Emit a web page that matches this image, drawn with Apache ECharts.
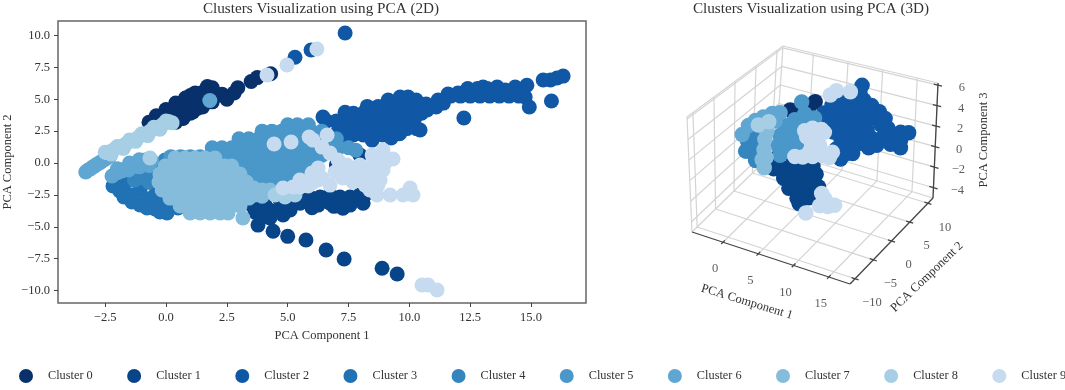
<!DOCTYPE html>
<html><head><meta charset="utf-8">
<style>html,body{margin:0;padding:0;background:#fff}#c{width:1065px;height:390px}</style>
<script src="https://cdn.jsdelivr.net/npm/echarts@6/dist/echarts.min.js"></script>
</head><body><div id="c"></div>
<script>
const names=['Cluster 0','Cluster 1','Cluster 2','Cluster 3','Cluster 4','Cluster 5','Cluster 6','Cluster 7','Cluster 8','Cluster 9'];
const colors=['#08306b','#084488','#1058a6','#2171b5','#3585bf','#4a97c9','#60a6d2','#85bcdc','#a6cee4','#c6dbef'];
const xTicks=[-2.5,0,2.5,5,7.5,10,12.5,15];
const yTicks=[-10,-7.5,-5,-2.5,0,2.5,5,7.5,10];
const tick3x=[0,5,10,15];
const tick3y=[-10,-5,0,5,10];
const tick3z=[-4,-2,0,2,4,6];

const c0_2d=[[1.7,6.0],[1.9,5.9],[1.55,5.6],[1.2,5.5],[0.8,5.1],[0.4,4.7],[0,4.2],[-0.4,3.7],[-0.7,3.2],[1.2,4.8],[0.8,4.3],[1.6,4.8],[2.0,5.2],[0.4,3.8],[0,3.3],[0.4,3.2],[2.3,5.4],[2.5,5.0],[2.95,5.9],[2.8,5.5],[3.5,6.4],[3.75,6.7],[4.3,7.0],[0.6,4.4],[1.4,5.2],[0.2,4.0],[1.0,5.3],[-0.2,3.6],[1.8,5.4],[0.6,3.7],[1.0,3.9],[0.7,3.5],[1.1,4.0],[1.5,4.4],[1.9,4.8],[1.3,4.3]];
const c1_2d=[[3.86,-3.3],[3.66,-3.85],[4.27,-3.7],[4.27,-4.3],[3.78,-4.87],[4.4,-5.35],[5.0,-5.75],[4.69,-3.7],[5.1,-3.3],[5.51,-3.15],[5.92,-3.15],[6.25,-3.3],[6.74,-3.15],[7.27,-3.55],[7.56,-3.3],[8.1,-3.15],[8.27,-2.35],[7.97,-2.5],[7.56,-2.67],[7.15,-2.67],[6.74,-2.5],[6.33,-2.67],[5.92,-2.67],[5.51,-2.67],[5.1,-2.67],[4.69,-2.9],[7.0,-0.16],[7.4,-0.7],[7.97,0.63],[7.56,-1.18],[5.75,-6.04],[6.58,-6.82],[7.32,-7.53],[8.88,-8.25],[9.5,-8.7],[4.48,-3.84],[4.81,-4.08],[4.07,-3.3],[3.53,-3.3],[5.1,-3.69],[6.0,-3.5],[6.9,-3.4],[3.95,-4.08]];
const c2_2d=[[6.45,3.6],[7.36,3.98],[8.27,4.44],[8.72,4.44],[9.13,4.94],[9.62,5.18],[9.95,5.18],[10.28,4.94],[10.69,4.63],[11.18,4.94],[11.59,5.41],[12.0,5.49],[13.03,5.96],[13.61,5.96],[13.94,5.73],[14.35,5.96],[14.64,5.41],[14.76,5.18],[14.93,4.39],
[9.1,4.4],[9.5,4.4],[9.9,4.4],[10.3,4.4],[11.1,4.4],[7.7,3.9],[8.1,3.9],[8.5,3.9],[8.9,3.9],[9.3,3.9],[9.7,3.9],[10.1,3.9],[10.5,3.9],[10.73,4.16],[6.6,3.3],[7,3.3],[7.4,3.3],[7.8,3.3],[8.2,3.3],[8.6,3.3],[9,3.3],[9.4,3.3],[9.8,3.3],[10.2,3.4],[7.1,2.7],[7.5,2.7],[7.9,2.7],[8.3,2.7],[8.7,2.7],[9.1,2.7],[9.5,2.7],[9.9,2.7],[10.3,2.7],[7.3,2.2],[7.7,2.2],[8.1,2.2],[8.5,2.2],[8.9,2.2],[9.3,2.2],[9.6,2.3],[8.47,1.8],[9.25,1.96],[10.44,2.59],
[11.4,4.7],[11.7,5.25],[12.1,5.25],[12.5,5.25],[12.9,5.25],[13.3,5.25],[13.7,5.25],[14.1,5.25],[14.5,5.25],[12.4,5.85],[12.8,5.85],[13.2,5.85],[13.6,5.6],[14,5.6],[12.24,3.53],[14.83,6.1],[15.84,4.86],[15.5,6.51],[15.8,6.51],[16.07,6.67],[16.32,6.82],[5.3,8.3],[5.96,8.86],[7.36,10.2]];
const c3_2d=[[-2.18,-1.8],[-1.73,-2.67],[-1.07,-3.29],[-0.45,-3.61],[0.04,-3.92],[0.49,-3.53],[0.16,-2.9],[-0.45,-2.5],[-1.07,-2.12],[-1.69,-1.57],[-0.66,-1.49],[-1.4,-3.06],[-0.78,-3.53],[-0.25,-3.84],[-1.4,-2.5],[-0.8,-2.8],[-0.2,-3.2],[-1.9,-2.2],[-0.2,-2.2],[0.3,-2.5],[-1.0,-1.5],[0.0,-1.6]];
const c4_2d=[[-0.86,-1.18],[-0.66,-0.7],[-0.45,-0.4],[-0.04,0.24],[0.25,0.24],[0.78,0.39],[-1.07,-1.18],[-0.3,-0.9],[-0.7,-1.5],[-0.2,-0.2],[-1.3,-1.35]];
const c5_2d=[[5.0,3.0],[5.4,3.0],[5.85,3.0],[3.95,2.5],[4.35,2.5],[4.75,2.5],[5.15,2.5],[5.55,2.5],[5.95,2.5],[6.4,2.5],[3.0,1.9],[3.4,1.9],[3.8,1.9],[4.2,1.9],[4.6,1.9],[5.0,1.9],[5.4,1.9],[5.8,1.9],[6.2,1.9],[6.6,1.9],[7.0,1.9],[1.9,1.2],[2.3,1.2],[2.7,1.2],[3.1,1.2],[3.5,1.2],[3.9,1.2],[4.3,1.2],[4.7,1.2],[5.1,1.2],[5.5,1.2],[5.9,1.2],[6.3,1.2],[6.7,1.2],[7.1,1.2],[7.5,1.2],[7.8,1.0],[0.2,0.5],[0.6,0.5],[1.0,0.5],[1.4,0.5],[1.8,0.5],[2.2,0.5],[2.6,0.5],[3.0,0.5],[3.4,0.5],[3.8,0.5],[4.2,0.5],[4.6,0.5],[5.0,0.5],[5.4,0.5],[5.8,0.5],[6.2,0.5],[6.4,0.6],[0.4,-0.2],[0.8,-0.2],[1.2,-0.2],[1.6,-0.2],[2.0,-0.2],[2.4,-0.2],[2.8,-0.2],[3.2,-0.2],[3.6,-0.2],[4.0,-0.2],[4.4,-0.2],[4.8,-0.2],[5.2,-0.2],[5.6,-0.2],[6.0,-0.2],[2.6,-0.9],[3.0,-0.9],[3.4,-0.9],[3.8,-0.9],[4.2,-0.9],[4.6,-0.9],[5.0,-0.9],[5.4,-0.9],[3.0,-1.6],[3.4,-1.6],[3.8,-1.6],[4.2,-1.6],[4.6,-1.6],[5.0,-1.6]];
const c6_2d=[[-3.3,-0.7],[-3.1,-0.45],[-2.9,-0.2],[-2.7,0.05],[-2.5,0.3],[-2.3,0.55],[-3.2,-0.55],[-3,-0.3],[-2.8,-0.05],[-2.6,0.2],[-2.4,0.45],[-2.22,-1.02],[-1.81,-0.63],[-1.4,-0.31],[-0.95,0],[-0.6,0.2],[-1.69,-0.47],[-1.27,-0.08],[-0.86,0.24],[1.8,4.9],[-2.0,-0.75],[-1.55,-0.55],[-1.1,-0.3],[-0.7,-0.2],[-1.5,0.0],[-1.1,0.25],[-2.0,-0.45]];
const c7_2d=[[0.37,0.39],[0.78,0.39],[1.19,0.39],[1.6,0.39],[2.01,0.39],[-0.04,-0.24],[0.37,-0.24],[0.78,-0.24],[1.19,-0.24],[1.6,-0.24],[2.01,-0.24],[2.42,-0.24],[2.7,-0.24],[-0.25,-0.86],[0.16,-0.86],[0.58,-0.86],[0.99,-0.86],[1.4,-0.86],[1.81,-0.86],[2.22,-0.86],[2.63,-0.86],[3.04,-0.86],[-0.29,-1.49],[0.16,-1.49],[0.58,-1.49],[0.99,-1.49],[1.4,-1.49],[1.81,-1.49],[2.22,-1.49],[2.63,-1.49],[3.04,-1.49],[3.3,-1.49],[-0.16,-2.12],[0.25,-2.12],[0.66,-2.12],[1.07,-2.12],[1.48,-2.12],[1.89,-2.12],[2.3,-2.12],[2.71,-2.12],[3.12,-2.12],[3.5,-2.12],[0.16,-2.75],[0.58,-2.75],[0.99,-2.75],[1.4,-2.75],[1.81,-2.75],[2.22,-2.75],[2.63,-2.75],[3.04,-2.75],[3.4,-2.75],[0.58,-3.37],[0.99,-3.37],[1.4,-3.37],[1.81,-3.37],[2.22,-3.37],[2.63,-3.37],[3.04,-3.37],[0.99,-3.92],[1.4,-3.92],[1.81,-3.92],[2.22,-3.92],[2.55,-3.92],[3.16,-4.31],[3.66,-2.5],[3.95,-2.12],[4.27,-2.12],[3.95,-2.6],[3.6,-1.96]];
const c8_2d=[[-2.5,0.85],[-2.25,0.7],[-2,1.3],[-1.75,1.15],[-1.5,1.8],[-1.25,1.7],[-1,2.3],[-0.75,2.15],[-0.5,2.8],[-0.25,2.65],[0,3.3],[0.25,3.15],[-2.4,0.8],[-2.15,1.05],[-1.9,1.25],[-1.65,1.5],[-1.4,1.75],[-1.15,2.0],[-0.9,2.25],[-0.65,2.5],[-0.4,2.75],[-0.15,3.0],[0.1,3.25],[-0.66,0.39],[4.48,-2.5],[4.89,-2.67],[5.3,-2.5],[4.69,-2.27],[5.1,-2.27]];
const c9_2d=[[4.44,1.49],[5.14,1.65],[5.88,2.04],[6.62,2.2],[6.04,1.8],[6.41,1.25],[6.74,0.78],[7.07,0.24],[7.44,-0.16],[7.77,-0.39],[8.8,0.47],[9.33,0.31],[8.92,1.02],[8.38,-0.31],[8.92,-0.55],[8.51,-1.57],[8.18,-0.55],[8.59,0.24],[8.47,0.63],[6.25,-0.39],[6.0,-0.78],[4.81,-1.96],[5.22,-1.88],[5.84,-1.8],[6.25,-1.33],[6.74,-1.73],[7.27,-1.18],[7.69,-1.49],[6.41,-1.18],[6.0,-1.57],[5.51,-1.88],[7.36,-0.78],[7.77,-0.7],[8.06,-1.18],[8.18,-1.73],[8.67,-2.51],[9.21,-2.51],[9.74,-2.51],[10.15,-2.51],[10.03,-1.96],[8.38,-2.12],[8.8,-1.33],[7.97,-0.16],[8.47,-0.7],[8.7,-0.16],[9.0,0],[8.38,-1.18],[8.71,-1.73],[5.5,-1.33],[6.95,-0.7],[4.97,7.69],[6.2,8.94],[4.15,6.9],[10.52,-9.57],[10.77,-9.57],[11.14,-9.96]];

const c0_3d=[[1.27,5.7,2.37],[3.82,5.7,3.73],[3.12,5.7,3.27],[0.28,5.7,2.25]];
const c1_3d=[[4.51,-4.56,1.83],[3.8,-4.56,0.49],[5.21,-4.56,0.81],[6.63,-4.56,1.62],[8.05,-4.56,1.26],[9.47,-4.56,1.78],[9.89,-4.56,1.1],[5.21,-4.56,-0.16],[6.63,-4.56,0.36],[8.05,-4.56,0.29],[9.47,-4.56,0.32],[5.92,-4.56,-0.97],[7.34,-4.56,-0.66],[8.76,-4.56,-0.33],[7.06,-4.56,-1.69],[8.05,-4.56,-1.27],[7.34,-4.56,-2.12],[8.76,-4.56,-1.31],[10.18,-4.56,-0.01],[4.79,-4.56,0.72]];
const c2_3d=[[10.49,5.7,6.49],[10.21,5.7,5.66],[9.07,5.7,5.21],[7.65,5.7,4.59],[6.24,5.7,3.79],[5.1,5.7,2.84],[4.82,5.7,2.0],[5.1,5.7,1.28],[6.52,5.7,3.16],[7.94,5.7,3.68],[9.35,5.7,4.39],[10.77,5.7,5.1],[11.91,5.7,4.77],[13.04,5.7,4.35],[13.89,5.7,3.85],[14.32,5.7,2.98],[13.33,5.7,3.14],[11.91,5.7,3.6],[10.49,5.7,3.77],[9.07,5.7,3.16],[7.65,5.7,2.65],[6.24,5.7,2.13],[6.52,5.7,1.21],[7.94,5.7,1.73],[9.35,5.7,2.25],[10.77,5.7,2.86],[7.65,5.7,0.7],[9.07,5.7,1.21],[10.49,5.7,1.82],[11.91,5.7,1.65],[13.33,5.7,1.78],[14.74,5.7,2.49],[16.16,5.7,2.91],[17.3,5.7,3.06],[16.16,5.7,2.13],[16.16,5.7,1.45],[14.74,5.7,1.52],[11.62,5.7,0.62],[10.49,5.7,0.84],[9.07,5.7,0.24],[8.36,5.7,-0.61],[9.35,5.7,-0.38],[7.65,5.7,-1.25],[6.94,5.7,-0.44],[5.67,5.7,2.39],[8.5,5.7,3.22],[9.92,5.7,3.93],[11.34,5.7,4.25],[12.76,5.7,3.6],[7.09,5.7,2.02],[8.5,5.7,2.44],[10.06,5.7,3.19],[11.34,5.7,2.3],[8.5,5.7,1.47],[9.92,5.7,1.01],[12.76,5.7,1.07],[13.89,5.7,2.39]];
const c3_3d=[[-0.5,-2.3,1.5],[0.3,-2.3,1.0]];
const c4_3d=[[-0.94,-2.28,2.03],[-0.66,-2.28,1.13],[-0.23,-2.28,0.25],[0.48,-2.28,2.35],[-1.22,-2.28,1.49],[-0.23,-2.28,2.49],[0.76,-2.28,3.1],[-0.94,-2.28,0.57],[-0.09,-2.28,-0.21],[-1.51,-2.28,0.44]];
const c5_3d=[[5.24,0,5.75],[2.83,0,3.06],[4.25,0,3.86],[5.67,0,4.68],[7.09,0,4.51],[2.12,0,1.93],[3.54,0,2.73],[4.96,0,3.25],[6.38,0,3.86],[1.84,0,0.89],[3.26,0,1.51],[4.68,0,2.02],[6.09,0,2.82],[2.12,0,-0.02],[3.54,0,0.59],[4.96,0,1.11],[3.54,0,3.22]];
const c6_3d=[[-2.41,0,2.07],[-1.42,0,2.78],[-0.29,0,3.33],[0.99,0,3.91],[2.12,0,4.17],[1.41,0,3.23],[-3.3,0,1.0]];
const c7_3d=[[1.92,-3.42,2.6],[1.78,-3.42,1.58],[2.21,-3.42,3.43],[1.5,-3.42,0.55],[2.07,-3.42,0.87],[1.78,-3.42,-0.17]];
const c8_3d=[[-1.0,0,2.4],[0.5,0,3.0]];
const c9_3d=[[5.67,0,3.03],[6.8,0,3.47],[8.08,0,3.57],[8.5,0,3.37],[5.95,0,2.5],[7.37,0,2.63],[6.66,0,1.79],[7.79,0,2.04],[4.25,0,0.26],[5.38,0,0.43],[6.8,0,0.75],[8.22,0,1.07],[9.64,0,1.68],[9.21,0,1.1],[6.38,0,1.14],[8.08,0,-2.57],[8.5,0,-2.96],[7.79,0,-3.8],[8.93,0,-3.65],[9.92,0,-3.32],[5.81,0,-4.93],[4.02,9.1,3.35],[4.87,9.1,3.93],[6.86,9.1,4.18]];

const clusters2d=[c0_2d,c1_2d,c2_2d,c3_2d,c4_2d,c5_2d,c6_2d,c7_2d,c8_2d,c9_2d];
const clusters3d=[c0_3d,c1_3d,c2_3d,c3_3d,c4_3d,c5_3d,c6_3d,c7_3d,c8_3d,c9_3d];

/* 3D box: data ranges and the screen corners of the box, used to project a value triple */
const R={x:[-4.4,18],y:[-11.4,11.4],z:[-5,6.2]};
const C={A:[692,232],B:[850,284],K:[933,198],D:[776,150],At:[687,117],Bt:[842,154],Kt:[938,83],Dt:[783,46]};
function project(x,y,z){
  const u=(x-R.x[0])/(R.x[1]-R.x[0]),v=(y-R.y[0])/(R.y[1]-R.y[0]),w=(z-R.z[0])/(R.z[1]-R.z[0]);
  const out=[0,0];
  for(let i=0;i<2;i++){
    const b=(1-u)*(1-v)*C.A[i]+u*(1-v)*C.B[i]+u*v*C.K[i]+(1-u)*v*C.D[i];
    const t=(1-u)*(1-v)*C.At[i]+u*(1-v)*C.Bt[i]+u*v*C.Kt[i]+(1-u)*v*C.Dt[i];
    out[i]=b+(t-b)*w;
  }
  return out;
}
const seg=(a,b)=>({coords:[project(...a),project(...b)]});
const [x0,x1]=R.x,[y0,y1]=R.y,[z0,z1]=R.z;
const gridSegs=[];
tick3x.forEach(t=>{gridSegs.push(seg([t,y0,z0],[t,y1,z0]),seg([t,y1,z0],[t,y1,z1]));});
tick3y.forEach(t=>{gridSegs.push(seg([x0,t,z0],[x1,t,z0]),seg([x0,t,z0],[x0,t,z1]));});
tick3z.forEach(t=>{gridSegs.push(seg([x0,y0,t],[x0,y1,t]),seg([x0,y1,t],[x1,y1,t]));});
[[[x0,y0,z0],[x0,y1,z0]],[[x0,y1,z0],[x1,y1,z0]],[[x0,y0,z0],[x0,y0,z1]],[[x0,y1,z0],[x0,y1,z1]],[[x1,y1,z0],[x1,y1,z1]],[[x0,y0,z1],[x0,y1,z1]],[[x0,y1,z1],[x1,y1,z1]]].forEach(p=>gridSegs.push(seg(p[0],p[1])));
const axisSegs=[seg([x0,y0,z0],[x1,y0,z0]),seg([x1,y0,z0],[x1,y1,z0]),seg([x1,y1,z0],[x1,y1,z1])];
tick3x.forEach(t=>axisSegs.push(seg([t,y0-0.5,z0],[t,y0+0.5,z0])));
tick3y.forEach(t=>axisSegs.push(seg([x1-0.5,t,z0],[x1+0.5,t,z0])));
tick3z.forEach(t=>axisSegs.push(seg([x1-0.6,y1,t],[x1+0.6,y1,t])));

const minus=s=>String(s).replace('-','\u2212');
const labelStyle={fontFamily:'Liberation Serif',fontSize:12.5,color:'#333'};
const tickLabels=[
  ...tick3x.map(t=>({p:project(t,y0,z0),t,off:[-8,27]})),
  ...tick3y.map(t=>({p:project(x1,t,z0),t,off:[17,24]})),
  ...tick3z.map(t=>({p:project(x1,y1,t),t,off:[24,3]}))
];
const scatter3=(d,i)=>({type:'scatter',name:names[i],xAxisIndex:1,yAxisIndex:1,symbolSize:15.5,itemStyle:{color:colors[i],opacity:1},data:d.map(p=>project(p[0],p[1],p[2])),silent:true,animation:false,clip:false});
const scatter2=(d,i)=>({type:'scatter',name:names[i],xAxisIndex:0,yAxisIndex:0,symbolSize:15,itemStyle:{color:colors[i],opacity:1},data:d,silent:true,animation:false});
const axisText=(text,x,y,deg)=>({type:'text',x,y,rotation:deg*Math.PI/180,style:{text,x:0,y:0,align:'center',verticalAlign:'middle',fontFamily:'Liberation Serif',fontSize:12.5,fill:'#333'},silent:true});

const chart=echarts.init(document.getElementById('c'),null,{renderer:'canvas'});
chart.setOption({
  animation:false,
  backgroundColor:'#fff',
  textStyle:{fontFamily:'Liberation Serif'},
  title:[
    {text:'Clusters Visualization using PCA (2D)',left:316,top:-3,textAlign:'center',textStyle:{fontFamily:'Liberation Serif',fontSize:15.2,fontWeight:'normal',color:'#333'}},
    {text:'Clusters Visualization using PCA (3D)',left:806,top:-3,textAlign:'center',textStyle:{fontFamily:'Liberation Serif',fontSize:15.2,fontWeight:'normal',color:'#333'}}
  ],
  legend:{data:names,left:14,top:364,width:1300,icon:'circle',itemWidth:14,itemHeight:14,itemGap:34.4,selectedMode:false,textStyle:{fontFamily:'Liberation Serif',fontSize:12.3,color:'#333',padding:[0,0,0,10]}},
  grid:[
    {left:58,top:21,width:528,height:282,show:true,borderColor:'#666',borderWidth:1.5,containLabel:false,outerBoundsMode:'none'},
    {left:0,top:0,width:1065,height:390,show:false,outerBoundsMode:'none'}
  ],
  xAxis:[
    {type:'value',gridIndex:0,min:-4.44,max:17.26,name:'PCA Component 1',nameLocation:'middle',nameGap:26,nameTextStyle:labelStyle,
     splitLine:{show:false},axisLine:{show:false,onZero:false},
     axisTick:{show:true,length:4,customValues:xTicks,lineStyle:{color:'#444'}},
     axisLabel:{customValues:xTicks,margin:8,formatter:v=>minus(v.toFixed(1)),...labelStyle}},
    {type:'value',gridIndex:1,min:0,max:1065,show:false}
  ],
  yAxis:[
    {type:'value',gridIndex:0,min:-10.98,max:11.14,name:'PCA Component 2',nameLocation:'middle',nameGap:44,nameTextStyle:labelStyle,
     splitLine:{show:false},axisLine:{show:false,onZero:false},
     axisTick:{show:true,length:4,customValues:yTicks,lineStyle:{color:'#444'}},
     axisLabel:{customValues:yTicks,margin:8,formatter:v=>minus(v.toFixed(1)),...labelStyle}},
    {type:'value',gridIndex:1,min:0,max:390,inverse:true,show:false}
  ],
  graphic:[
    axisText('PCA Component 1',747,302,-17),
    axisText('PCA Component 2',927,277,44),
    axisText('PCA Component 3',984,140,90)
  ],
  series:[
    {type:'lines',coordinateSystem:'cartesian2d',xAxisIndex:1,yAxisIndex:1,data:gridSegs,lineStyle:{color:'#d4d4d4',width:1.2,opacity:1},silent:true,animation:false,z:1},
    {type:'lines',coordinateSystem:'cartesian2d',xAxisIndex:1,yAxisIndex:1,data:axisSegs,lineStyle:{color:'#444',width:1.3,opacity:1},silent:true,animation:false,z:1},
    ...clusters2d.map(scatter2),
    ...clusters3d.map(scatter3),
    {type:'scatter',xAxisIndex:1,yAxisIndex:1,symbolSize:0,silent:true,animation:false,clip:false,
     data:tickLabels.map(l=>({value:l.p,label:{show:true,position:'inside',offset:l.off,formatter:minus(l.t),...labelStyle}}))}
  ]
});
</script></body></html>
